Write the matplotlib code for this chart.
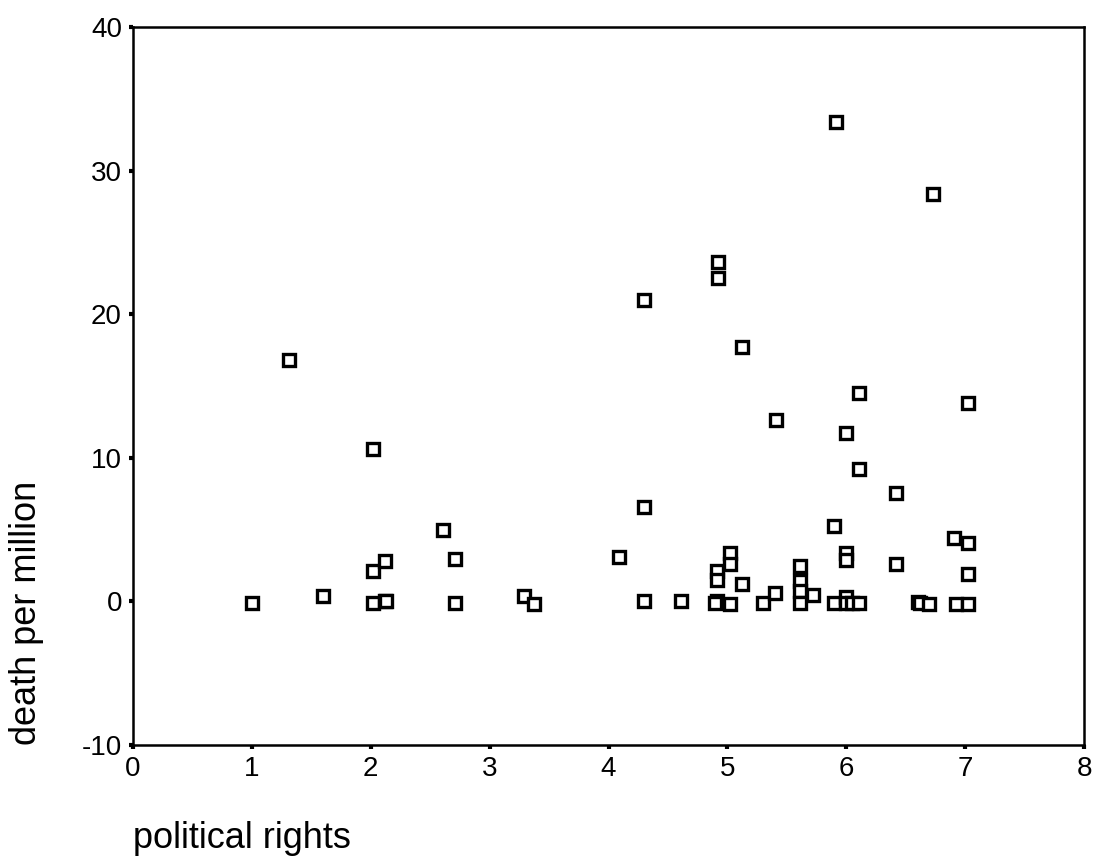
import matplotlib
matplotlib.use("Agg")
import matplotlib.pyplot as plt

plt.rcParams['font.family'] = ['Liberation Sans', 'DejaVu Sans']
plt.rcParams['axes.unicode_minus'] = False

# political rights score (x) vs deaths per million (y)
political_rights = [
    1.00, 1.31, 1.60, 2.02, 2.02, 2.12, 2.02, 2.12, 2.13, 2.61, 2.71, 2.71,
    3.29, 3.37, 4.09, 4.30, 4.30, 4.30, 4.61, 4.92, 4.92, 4.91, 4.91, 4.91,
    4.90, 5.02, 5.02, 5.02, 5.12, 5.12, 5.30, 5.40, 5.41, 5.61, 5.61, 5.61,
    5.61, 5.72, 5.90, 5.90, 5.91, 6.00, 6.00, 6.00, 6.00, 6.00, 6.05, 6.11,
    6.11, 6.11, 6.42, 6.42, 6.60, 6.62, 6.70, 6.73, 6.91, 6.92, 7.02, 7.02,
    7.02, 7.02,
]
death_per_million = [
    -0.1, 16.8, 0.4, 10.6, 2.1, 2.8, -0.1, 0.0, 0.05, 4.95, 2.95, -0.1,
    0.35, -0.2, 3.07, 21.0, 6.56, 0.0, 0.0, 23.65, 22.5, 2.1, 1.46, 0.0,
    -0.1, 3.39, 2.57, -0.2, 17.7, 1.18, -0.1, 0.57, 12.6, 2.48, 1.39, 0.71,
    -0.1, 0.42, 5.28, -0.1, 33.4, 11.7, 3.35, 2.88, 0.28, -0.1, -0.1, -0.1,
    14.5, 9.24, 7.57, 2.6, -0.07, -0.1, -0.2, 28.4, 4.43, -0.2, 13.8, 4.1,
    1.89, -0.2,
]

x_ticks = [0, 1, 2, 3, 4, 5, 6, 7, 8]
y_ticks = [-10, 0, 10, 20, 30, 40]

fig = plt.figure(figsize=(10.93, 8.65), dpi=100)
ax = fig.add_axes([133 / 1093, 1 - 745 / 865, (1084 - 133) / 1093, (745 - 27) / 865])

ax.plot(political_rights, death_per_million, linestyle='none', marker='s',
        markersize=8, markerfacecolor='white', markeredgecolor='black',
        markeredgewidth=2.4)

ax.set_xlim(0, 8)
ax.set_ylim(-10, 40)
ax.set_xticks(x_ticks)
ax.set_yticks(y_ticks)
ax.tick_params(direction='out', length=3, width=3, labelsize=20, pad=5)

for side in ['left', 'bottom', 'top', 'right']:
    ax.spines[side].set_linewidth(1.8)

fig.text(27 / 1093, 1 - 613 / 865, 'death per million', rotation=90,
         ha='center', va='center', fontsize=26)
fig.text(133 / 1093, 1 - 838 / 865, 'political rights',
         ha='left', va='center', fontsize=26)

fig.savefig('out.png', dpi=100)
